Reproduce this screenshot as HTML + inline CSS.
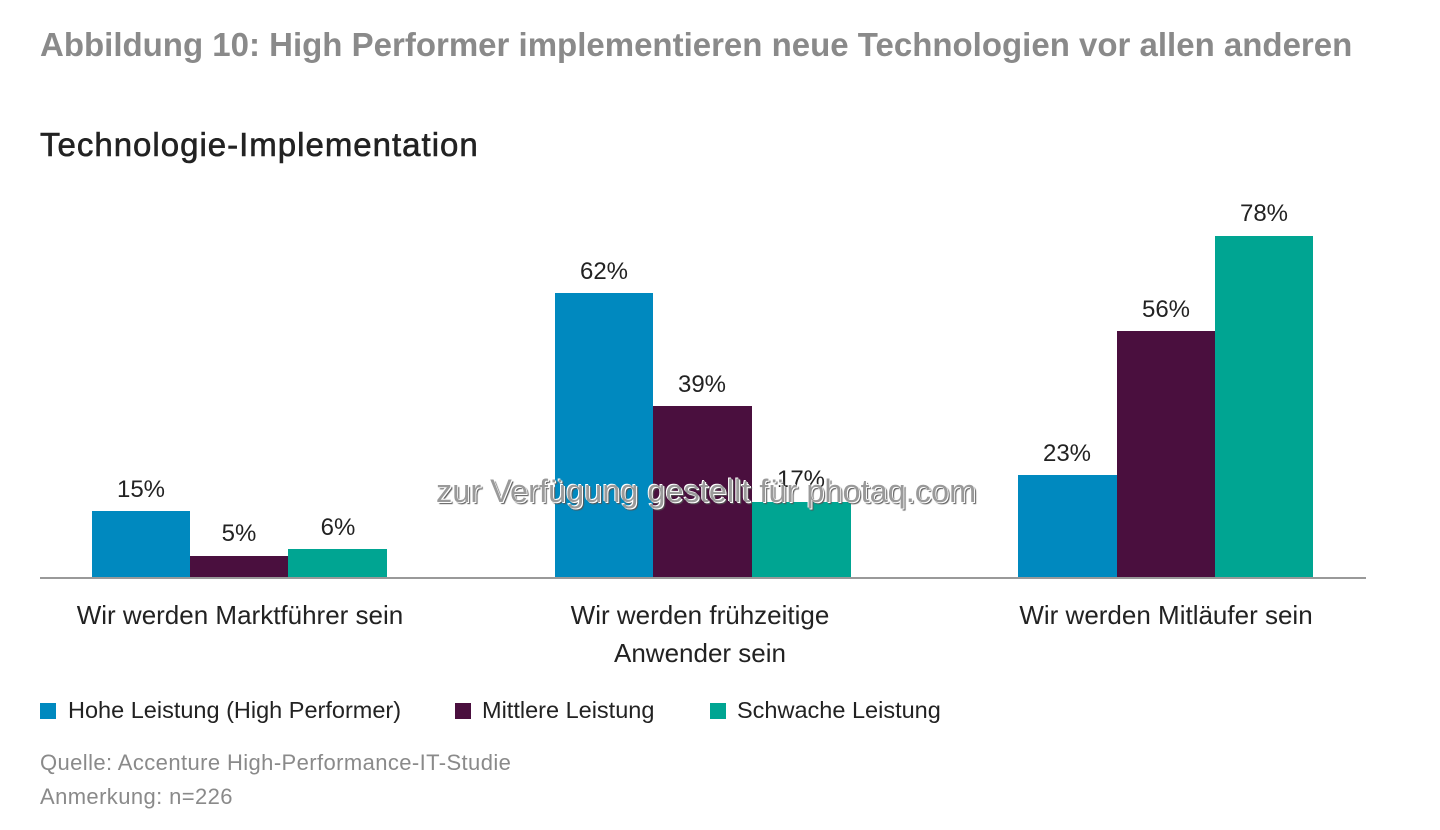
<!DOCTYPE html>
<html><head><meta charset="utf-8"><style>
body{margin:0;width:1440px;height:830px;background:#fff;position:relative;overflow:hidden;font-family:"Liberation Sans","DejaVu Sans",sans-serif}
.t{position:absolute;white-space:nowrap}
.b{position:absolute}
.v{position:absolute;font-size:24px;color:#222;text-align:center;width:100px}
.c{position:absolute;font-size:26px;color:#222;text-align:center;line-height:38px}
.sq{position:absolute;width:16px;height:16px;top:703px}
.lg{position:absolute;top:697px;font-size:23.5px;color:#222}
</style></head><body>
<div class="t" style="left:40px;top:26px;font-size:33px;color:#8a8a8a;font-weight:bold">Abbildung 10: High Performer implementieren neue Technologien vor allen anderen</div>
<div class="t" style="left:40px;top:126px;font-size:33px;color:#222;letter-spacing:1px;-webkit-text-stroke:0.6px #222">Technologie-Implementation</div>

<div class="b" style="left:92px;top:511px;width:98px;height:67px;background:#0089bf"></div>
<div class="b" style="left:190px;top:556px;width:98px;height:22px;background:#4a0f3e"></div>
<div class="b" style="left:288px;top:549px;width:99px;height:29px;background:#00a592"></div>
<div class="b" style="left:555px;top:293px;width:98px;height:285px;background:#0089bf"></div>
<div class="b" style="left:653px;top:406px;width:99px;height:172px;background:#4a0f3e"></div>
<div class="b" style="left:752px;top:502px;width:99px;height:76px;background:#00a592"></div>
<div class="b" style="left:1018px;top:475px;width:99px;height:103px;background:#0089bf"></div>
<div class="b" style="left:1117px;top:331px;width:98px;height:247px;background:#4a0f3e"></div>
<div class="b" style="left:1215px;top:236px;width:98px;height:342px;background:#00a592"></div>
<div class="b" style="left:40px;top:577px;width:1326px;height:2px;background:#999"></div>

<div class="v" style="left:91px;top:476px">15%</div>
<div class="v" style="left:189px;top:520px">5%</div>
<div class="v" style="left:288px;top:514px">6%</div>
<div class="v" style="left:554px;top:258px">62%</div>
<div class="v" style="left:652px;top:371px">39%</div>
<div class="v" style="left:751px;top:466px">17%</div>
<div class="v" style="left:1017px;top:440px">23%</div>
<div class="v" style="left:1116px;top:296px">56%</div>
<div class="v" style="left:1214px;top:200px">78%</div>

<div class="c" style="left:40px;top:596px;width:400px">Wir werden Marktführer sein</div>
<div class="c" style="left:500px;top:596px;width:400px">Wir werden frühzeitige<br>Anwender sein</div>
<div class="c" style="left:966px;top:596px;width:400px">Wir werden Mitläufer sein</div>

<div class="t" style="left:436px;top:473px;font-size:32.5px;color:#9a9a9a;text-shadow:1px 1px 0 #fff,-1px -1px 0 #fff,2px 2px 1px #555">zur Verfügung gestellt für photaq.com</div>

<div class="sq" style="left:40px;background:#0089bf"></div>
<div class="lg" style="left:68px">Hohe Leistung (High Performer)</div>
<div class="sq" style="left:455px;background:#4a0f3e"></div>
<div class="lg" style="left:482px">Mittlere Leistung</div>
<div class="sq" style="left:710px;background:#00a592"></div>
<div class="lg" style="left:737px">Schwache Leistung</div>

<div class="t" style="left:40px;top:750px;font-size:22px;color:#8a8a8a;letter-spacing:0.4px">Quelle: Accenture High-Performance-IT-Studie</div>
<div class="t" style="left:40px;top:784px;font-size:22px;color:#8a8a8a;letter-spacing:0.4px">Anmerkung: n=226</div>
</body></html>
